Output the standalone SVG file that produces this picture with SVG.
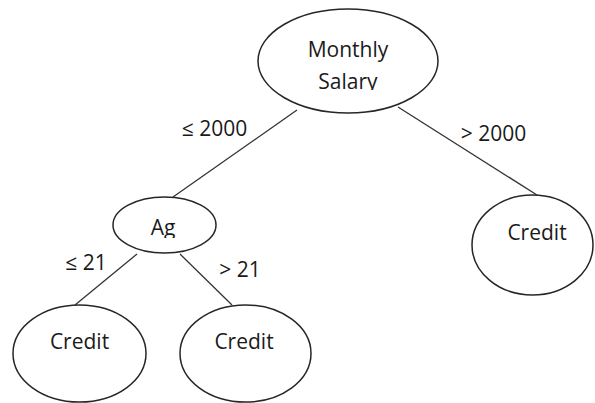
<svg xmlns="http://www.w3.org/2000/svg" width="595" height="403" viewBox="0 0 595 403">
  <style>
    .node ellipse { fill: #ffffff; stroke: #262626; stroke-width: 1.5; }
    .node text, .label { font-family: "Open Sans", "DejaVu Sans", sans-serif; fill: #1a1a1a; text-anchor: middle; }
    .node text { font-size: 21px; }
    .label { font-size: 21px; }
    .edges line { stroke: #333333; stroke-width: 1.3; }
  </style>
  <defs>
    <!-- label boxes cut the lower line of text -->
    <clipPath id="clip-root"><rect x="250" y="0" width="200" height="90"/></clipPath>
    <clipPath id="clip-age"><rect x="110" y="190" width="110" height="48"/></clipPath>
  </defs>

  <g class="edges">
    <line x1="297" y1="110" x2="173" y2="197"/>
    <line x1="398" y1="107" x2="537" y2="195"/>
    <line x1="137" y1="254" x2="75" y2="305"/>
    <line x1="180" y1="254" x2="232" y2="305"/>
  </g>

  <g id="node-salary" class="node">
    <ellipse cx="348" cy="61" rx="90" ry="52"/>
    <g clip-path="url(#clip-root)">
      <text x="348" y="57">Monthly</text>
      <text x="348" y="89">Salary</text>
    </g>
  </g>

  <g id="node-age" class="node">
    <ellipse cx="164.5" cy="225" rx="51.5" ry="28"/>
    <text x="163" y="235" clip-path="url(#clip-age)">Ag</text>
  </g>

  <g id="node-credit-right" class="node">
    <ellipse cx="532.5" cy="245" rx="60.5" ry="50"/>
    <text x="537" y="240">Credit</text>
  </g>

  <g id="node-credit-left" class="node">
    <ellipse cx="79.5" cy="353.5" rx="66.5" ry="48.5"/>
    <text x="79.5" y="349">Credit</text>
  </g>

  <g id="node-credit-mid" class="node">
    <ellipse cx="245.5" cy="353.5" rx="65.5" ry="48.5"/>
    <text x="244" y="349">Credit</text>
  </g>

  <g id="edge-labels">
    <text class="label" x="214.5" y="136">≤ 2000</text>
    <text class="label" x="493.5" y="141">&gt; 2000</text>
    <text class="label" x="86" y="270">≤ 21</text>
    <text class="label" x="240" y="277">&gt; 21</text>
  </g>
</svg>
